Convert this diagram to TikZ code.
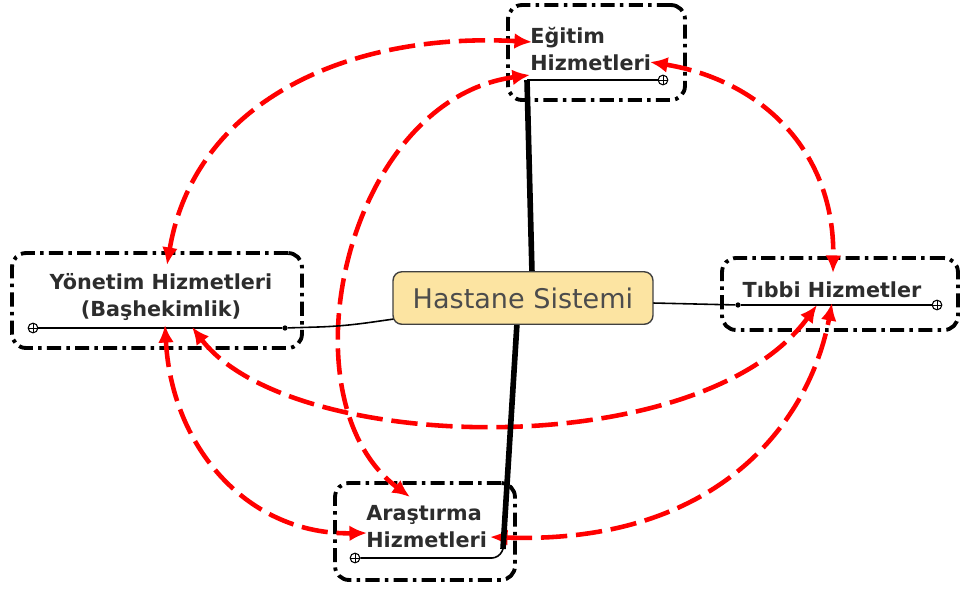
\documentclass[tikz,border=0pt]{standalone}
\usepackage{fontspec}
\setmainfont{DejaVu Sans}
\usetikzlibrary{arrows.meta}
\definecolor{hubfill}{RGB}{252,228,162}
\definecolor{inkgray}{RGB}{45,45,45}

\tikzset{
  frame/.style={draw,line width=2.2pt,rounded corners=8pt,line cap=butt,
    dash pattern=on 8pt off 3pt on 2pt off 3pt,inner sep=0pt},
  lbl/.style={font=\bfseries\fontsize{11.8}{15.3}\selectfont,text=inkgray,inner sep=0pt},
  hub/.style={draw=black!75,line width=0.8pt,fill=hubfill,rounded corners=5pt,
    minimum width=5.2cm,minimum height=1.05cm,text=black!70,
    font=\fontsize{15.4}{18}\selectfont},
  stem/.style={line width=0.9pt},
  trunk/.style={line width=3.2pt},
  plusdot/.style={circle,draw,fill=white,line width=0.6pt,inner sep=0pt,minimum size=5.5pt,
    path picture={\draw[line width=0.5pt] (path picture bounding box.north)--(path picture bounding box.south)
      (path picture bounding box.east)--(path picture bounding box.west);}},
  jdot/.style={circle,fill=black,inner sep=0pt,minimum size=3pt},
  redlink/.style={draw=red,line width=2.6pt,line cap=butt,dash pattern=on 15pt off 5pt,
    {Latex[length=10pt,width=9pt]}-{Latex[length=10pt,width=9pt]}}
}

\begin{document}
\begin{tikzpicture}[x=0.02cm,y=-0.02cm,line join=round]
  \useasboundingbox (0,0) rectangle (964,589);

  % frames
  \node[frame,minimum width=3.54cm,minimum height=1.9cm] (egitim) at (596.5,52.5) {};
  \node[frame,minimum width=5.8cm,minimum height=1.9cm] (yonetim) at (157,300.5) {};
  \node[frame,minimum width=4.72cm,minimum height=1.44cm] (tibbi) at (840,294) {};
  \node[frame,minimum width=3.6cm,minimum height=1.94cm] (arastirma) at (425,531.5) {};

  % labels
  \node[lbl,align=left,anchor=west] (egitimText) at (530,49) {Eğitim\\Hizmetleri};
  \node[lbl,align=center] (yonetimText) at (161,297) {Yönetim Hizmetleri\\(Başhekimlik)};
  \node[lbl] (tibbiText) at (832,290) {Tıbbi Hizmetler};
  \node[lbl,align=left,anchor=west] (arastirmaText) at (366,527) {Araştırma\\Hizmetleri};

  % underlines
  \coordinate (egitimHook) at (527,80);
  \node[plusdot] (egitimPlus) at (663,80) {};
  \draw[stem] (egitimHook) -- (egitimPlus);
  \node[plusdot] (yonetimPlus) at (33,328) {};
  \node[jdot] (yonetimDot) at (285,328) {};
  \draw[stem] (yonetimPlus) -- (yonetimDot);
  \node[jdot] (tibbiDot) at (738,305) {};
  \node[plusdot] (tibbiPlus) at (937,305) {};
  \draw[stem] (tibbiDot) -- (tibbiPlus);
  \node[plusdot] (arastirmaPlus) at (355,558) {};
  \coordinate (arastirmaHook) at (503,549);
  \draw[stem,rounded corners=4pt] (arastirmaPlus) -- (499,558) -- (arastirmaHook);

  % red links
  \coordinate (egA) at (532,42);
  \coordinate (egB) at (650,62);
  \coordinate (egC) at (530,75);
  \coordinate (yoA) at (167,265);
  \coordinate (yoD) at (192,327);
  \coordinate (yoE) at (165,325);
  \coordinate (tiB) at (833,273);
  \coordinate (tiD) at (817,305);
  \coordinate (tiF) at (832,303);
  \coordinate (arC) at (410,497);
  \coordinate (arE) at (367,533);
  \coordinate (arF) at (490,537);
  \draw[redlink] (yoA) .. controls (195,100) and (350,32) .. (egA);
  \draw[redlink] (egB) .. controls (760,80) and (835,150) .. (tiB);
  \draw[redlink] (egC) .. controls (345,100) and (280,400) .. (arC);
  \draw[redlink] (yoD) .. controls (290,455) and (700,465) .. (tiD);
  \draw[redlink] (yoE) .. controls (172,450) and (250,535) .. (arE);
  \draw[redlink] (arF) .. controls (720,545) and (810,420) .. (tiF);

  % centre and branches
  \coordinate (hubTop) at (532,273);
  \coordinate (hubBottom) at (517,323);
  \coordinate (hubWest) at (394,319);
  \coordinate (hubEast) at (653,303);
  \draw[trunk] (egitimHook) -- (hubTop);
  \draw[trunk] (hubBottom) -- (arastirmaHook);
  \draw[stem] (yonetimDot) -- (318,327) .. controls (350,326) and (372,322) .. (hubWest);
  \draw[stem] (hubEast) -- (tibbiDot);
  \node[hub] (hastane) at (523,298) {Hastane Sistemi};
\end{tikzpicture}
\end{document}
